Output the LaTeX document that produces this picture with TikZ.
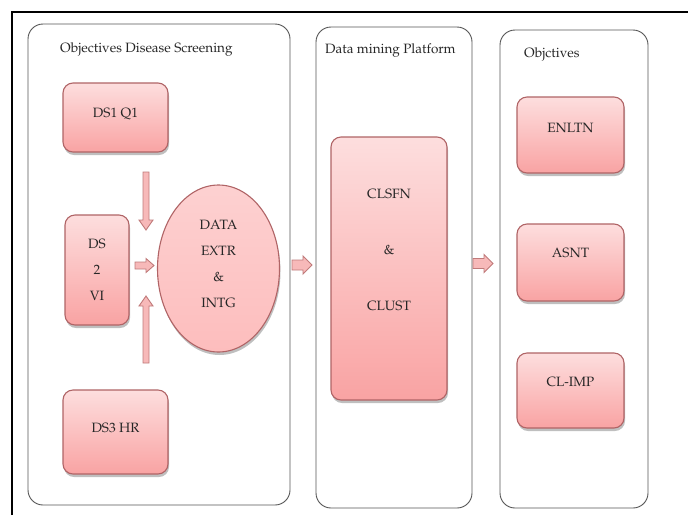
\documentclass[tikz,border=0pt]{standalone}
\usepackage[T1]{fontenc}
\usepackage{mathpazo}
\usetikzlibrary{shadows,calc,shapes.geometric}
\definecolor{bdr}{HTML}{B06466}
\definecolor{boxtop}{HTML}{FDDEDE}
\definecolor{boxbot}{HTML}{F9A3A3}
\definecolor{elfill}{HTML}{FDBDBD}
\definecolor{arrfill}{HTML}{F7B9B9}
\definecolor{arrbdr}{HTML}{C07A7A}
\definecolor{panelc}{HTML}{555555}
\begin{document}
\begin{tikzpicture}[x=1pt,y=-1pt,
  font=\fontsize{13.5}{16}\selectfont,
  panel/.style={draw=panelc, line width=0.9pt, rounded corners=15pt},
  title/.style={anchor=base west, inner sep=0pt, text=black!85},
  box/.style={draw=bdr, line width=1.1pt, rounded corners=10pt, top color=boxtop, bottom color=boxbot,
    drop shadow={shadow xshift=1pt, shadow yshift=-3pt, opacity=0.25, fill=black}, align=center, inner sep=0pt, text=black!85},
  ell/.style={draw=bdr, line width=1.1pt, ellipse, top color=boxtop!60!elfill, bottom color=elfill, align=center, inner sep=0pt,
    drop shadow={shadow xshift=1pt, shadow yshift=-3pt, opacity=0.25, fill=black}, text=black!85},
  barrow/.style={draw=arrbdr, line width=0.9pt, fill=arrfill, line join=miter}
]
\useasboundingbox (0,0) rectangle (688,515);
\fill[white] (0,0) rectangle (688,515);
\draw[line width=2pt] (12,515) -- (12,12) -- (688,12);

% panels
\draw[panel] (28,24) rectangle (290,505);
\draw[panel] (316,27) rectangle (472,508);
\draw[panel] (500,30) rectangle (648,508);

% titles
\node[title] (t1) at (60,52) {Objectives Disease Screening};
\node[title] (t2) at (325,53) {Data mining Platform};
\node[title] (t3) at (524,57) {Objctives};

% left panel boxes
\node[box, minimum width=105pt, minimum height=69pt, text depth=9pt] (ds1) at (115.5,117.5) {DS1 Q1};
\node[box, minimum width=64pt, minimum height=110pt] (ds2) at (97,270) {DS\\[10pt]2\\[10pt]VI};
\node[box, minimum width=105pt, minimum height=84pt, text depth=8pt] (ds3) at (115.5,432) {DS3 HR};
\node[ell, minimum width=122pt, minimum height=167pt, text depth=9pt] (ext) at (218.5,268.5) {DATA\\[10pt]EXTR\\[10pt]\&\\[10pt]INTG};

% middle
\node[box, minimum width=116pt, minimum height=263pt, text depth=38pt] (cls) at (389,268.5) {CLSFN\\[40pt]\&\\[40pt]CLUST};

% right
\node[box, minimum width=107pt, minimum height=76pt, text depth=14pt] (enl) at (570.5,135) {ENLTN};
\node[box, minimum width=107pt, minimum height=77pt, text depth=19pt] (asn) at (570.5,262.5) {ASNT};
\node[box, minimum width=107pt, minimum height=75pt, text depth=17pt] (cli) at (570.5,390.5) {CL-IMP};

% block arrows
\coordinate (dA) at (146,172);
\draw[barrow] ($(dA)+(-3,0)$) -- ($(dA)+(3,0)$) -- ($(dA)+(3,48)$) -- ($(dA)+(7,48)$) -- ($(dA)+(0,58)$) -- ($(dA)+(-7,48)$) -- ($(dA)+(-3,48)$) -- cycle;
\coordinate (uA) at (146,363);
\draw[barrow] ($(uA)+(-3,0)$) -- ($(uA)+(3,0)$) -- ($(uA)+(3,-57)$) -- ($(uA)+(7,-57)$) -- ($(uA)+(0,-67)$) -- ($(uA)+(-7,-57)$) -- ($(uA)+(-3,-57)$) -- cycle;
\coordinate (rA) at (135,265.5);
\draw[barrow] ($(rA)+(0,-3.5)$) -- ($(rA)+(11,-3.5)$) -- ($(rA)+(11,-7)$) -- ($(rA)+(19,0)$) -- ($(rA)+(11,7)$) -- ($(rA)+(11,3.5)$) -- ($(rA)+(0,3.5)$) -- cycle;
\coordinate (p1) at (292,265);
\draw[barrow] ($(p1)+(0,-5)$) -- ($(p1)+(11,-5)$) -- ($(p1)+(11,-9)$) -- ($(p1)+(20,0)$) -- ($(p1)+(11,9)$) -- ($(p1)+(11,5)$) -- ($(p1)+(0,5)$) -- cycle;
\coordinate (p2) at (473,263.5);
\draw[barrow] ($(p2)+(0,-5)$) -- ($(p2)+(11,-5)$) -- ($(p2)+(11,-9)$) -- ($(p2)+(20,0)$) -- ($(p2)+(11,9)$) -- ($(p2)+(11,5)$) -- ($(p2)+(0,5)$) -- cycle;
\end{tikzpicture}
\end{document}
